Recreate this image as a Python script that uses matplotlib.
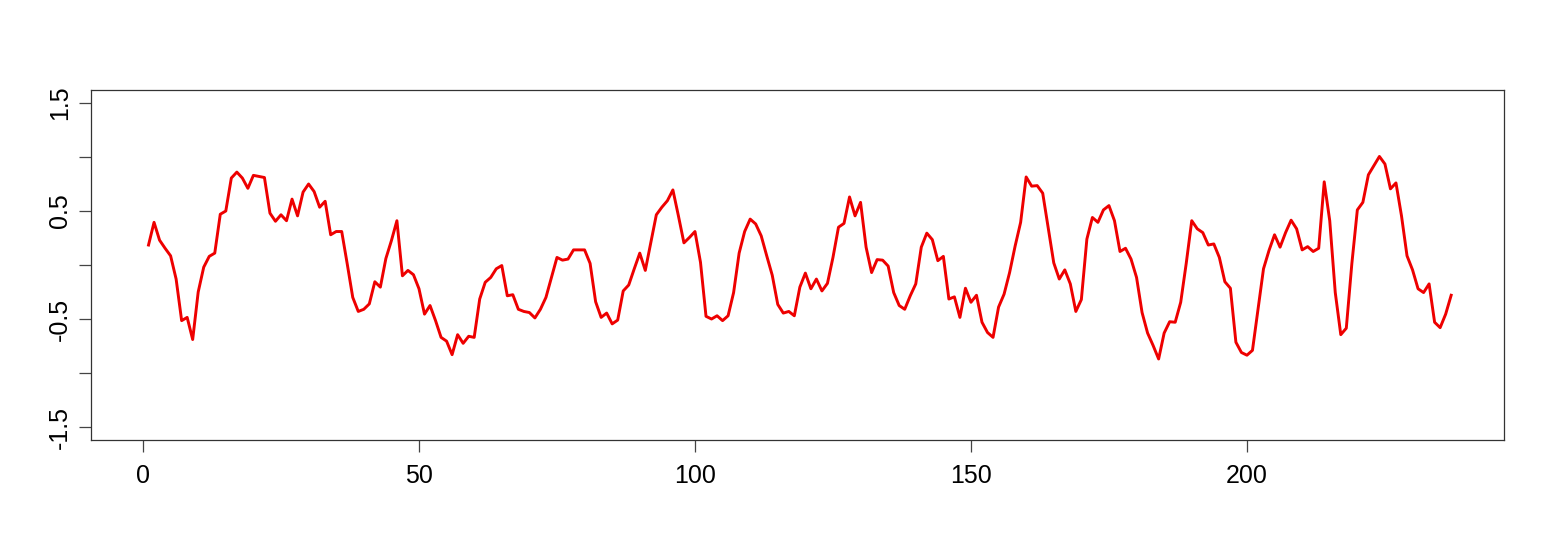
import numpy as np
import matplotlib.pyplot as plt

plt.rcParams['font.family'] = ['Liberation Sans', 'DejaVu Sans']

# values, one per step (1..237)
vals = [
    0.185, 0.395, 0.23, 0.155, 0.085, -0.13, -0.515, -0.485, -0.69, -0.25,
    -0.02, 0.08, 0.11, 0.47, 0.50, 0.805, 0.86, 0.805, 0.71, 0.83,
    0.82, 0.81, 0.48, 0.405, 0.465, 0.41, 0.61, 0.455, 0.675, 0.75,
    0.68, 0.535, 0.59, 0.28, 0.31, 0.31, 0.01, -0.30, -0.43, -0.41,
    -0.36, -0.155, -0.205, 0.06, 0.225, 0.41, -0.10, -0.05, -0.09, -0.22,
    -0.455, -0.375, -0.515, -0.67, -0.705, -0.83, -0.645, -0.725, -0.66, -0.67,
    -0.315, -0.16, -0.115, -0.035, -0.005, -0.285, -0.275, -0.41, -0.43, -0.44,
    -0.49, -0.41, -0.30, -0.115, 0.07, 0.045, 0.055, 0.14, 0.14, 0.14,
    0.015, -0.34, -0.485, -0.445, -0.545, -0.51, -0.24, -0.185, -0.035, 0.11,
    -0.05, 0.21, 0.465, 0.535, 0.595, 0.695, 0.455, 0.205, 0.255, 0.31,
    0.025, -0.475, -0.50, -0.47, -0.515, -0.47, -0.255, 0.11, 0.31, 0.425,
    0.38, 0.27, 0.085, -0.095, -0.365, -0.445, -0.43, -0.47, -0.205, -0.075,
    -0.22, -0.13, -0.24, -0.17, 0.07, 0.35, 0.385, 0.63, 0.455, 0.58,
    0.165, -0.07, 0.05, 0.045, -0.01, -0.255, -0.375, -0.41, -0.285, -0.175,
    0.165, 0.295, 0.235, 0.04, 0.08, -0.315, -0.295, -0.485, -0.215, -0.345,
    -0.28, -0.53, -0.625, -0.67, -0.39, -0.27, -0.07, 0.175, 0.395, 0.815,
    0.73, 0.735, 0.665, 0.34, 0.02, -0.13, -0.045, -0.175, -0.43, -0.32,
    0.24, 0.44, 0.395, 0.51, 0.55, 0.41, 0.125, 0.155, 0.055, -0.115,
    -0.44, -0.63, -0.745, -0.87, -0.63, -0.525, -0.53, -0.345, 0.015, 0.41,
    0.335, 0.30, 0.185, 0.195, 0.07, -0.155, -0.215, -0.715, -0.81, -0.835,
    -0.79, -0.41, -0.035, 0.135, 0.28, 0.165, 0.30, 0.415, 0.335, 0.14,
    0.17, 0.125, 0.155, 0.77, 0.41, -0.255, -0.645, -0.585, 0.01, 0.51,
    0.58, 0.835, 0.92, 1.005, 0.935, 0.705, 0.76, 0.455, 0.085, -0.045,
    -0.22, -0.255, -0.175, -0.53, -0.58, -0.455, -0.28,
]
steps = np.arange(1, len(vals) + 1)

xticks = [0, 50, 100, 150, 200]
yticks = [-1.5, -1.0, -0.5, 0.0, 0.5, 1.0, 1.5]
ylabels = ['-1.5', '', '-0.5', '', '0.5', '', '1.5']

fig = plt.figure(figsize=(15.5, 5.54), dpi=100)
ax = fig.add_axes([0.0585, 0.2058, 0.9115, 0.6317])
ax.plot(steps, vals, color='#ee0000', lw=2.1)

# R style 4% padding around 0..n
n = len(vals)
ext = n * 0.04
ax.set_xlim(-ext, n + ext)
ax.set_ylim(-1.62, 1.62)

ax.set_xticks(xticks)
ax.set_yticks(yticks)
ax.set_yticklabels(ylabels, rotation=90, va='center')
ax.tick_params(direction='out', length=8.3, width=0.9, labelsize=18,
               color='#444444')
ax.tick_params(axis='x', pad=9)
ax.tick_params(axis='y', pad=5)
for s in ax.spines.values():
    s.set_linewidth(0.9)
    s.set_color('#333333')

fig.savefig('out.png', dpi=100)
